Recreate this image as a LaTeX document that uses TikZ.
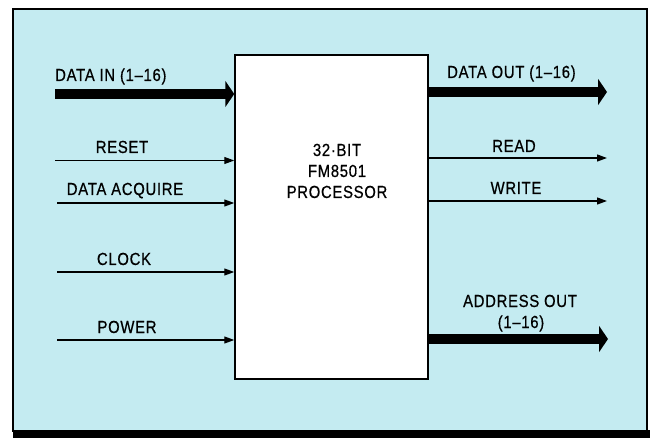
\documentclass[tikz,border=0pt]{standalone}
\usepackage{fontspec}
\setmainfont{Liberation Sans}[FakeBold=0.6, FakeStretch=0.85, LetterSpace=4]
\usetikzlibrary{arrows.meta}
\definecolor{bgcyan}{RGB}{196,235,241}
\tikzset{
  lbl/.style={font=\fontsize{17.5}{20}\selectfont, inner sep=0pt, anchor=base},
  bus/.style={line width=10pt, -{Triangle[length=9pt,width=26pt]}},
  sig/.style={line width=1.2pt, -{Triangle[length=10pt,width=7pt]}},
}
\begin{document}
\begin{tikzpicture}[x=1pt,y=-1pt]
\useasboundingbox (0,0) rectangle (650,438);
\fill[white] (0,0) rectangle (650,438);
% outer panel
\draw[line width=1.5pt, fill=bgcyan] (13,9) rectangle (647,431);
\fill[black] (13,430) rectangle (650,438);
% processor box
\node[draw, line width=1.5pt, fill=white, minimum width=193pt, minimum height=324pt, inner sep=0pt] (cpu) at (331.5,217) {};
\node[font=\fontsize{17.5}{21}\selectfont, align=center, inner sep=0pt, anchor=base] (proc) at (337,198) {32·BIT\\FM8501\\PROCESSOR};
% inputs
\coordinate (din) at (55,94);
\coordinate (rst) at (55,160.5);
\coordinate (acq) at (57,203);
\coordinate (clk) at (57,272);
\coordinate (pwr) at (57,340);
\draw[bus] (din) -- (din -| cpu.west);
\draw[sig] (rst) -- (rst -| cpu.west);
\draw[sig] (acq) -- (acq -| cpu.west);
\draw[sig] (clk) -- (clk -| cpu.west);
\draw[sig] (pwr) -- (pwr -| cpu.west);
\node[lbl, anchor=base west] (ldin) at (55,81) {DATA IN (1–16)};
\node[lbl] (lrst) at (122,153) {RESET};
\node[lbl] (lacq) at (125,195) {DATA ACQUIRE};
\node[lbl] (lclk) at (124,265) {CLOCK};
\node[lbl] (lpwr) at (127,333) {POWER};
% outputs
\coordinate (dout) at (607,92);
\coordinate (rd) at (607,158);
\coordinate (wr) at (607,201);
\coordinate (aout) at (608,339);
\draw[bus] (dout -| cpu.east) -- (dout);
\draw[sig] (rd -| cpu.east) -- (rd);
\draw[sig] (wr -| cpu.east) -- (wr);
\draw[bus] (aout -| cpu.east) -- (aout);
\node[lbl, anchor=base west] (ldout) at (447,78) {DATA OUT (1–16)};
\node[lbl] (lrd) at (514,152) {READ};
\node[lbl] (lwr) at (516,194) {WRITE};
\node[lbl] (laout) at (520,307) {ADDRESS OUT};
\node[lbl] (laout2) at (521,328) {(1–16)};
\end{tikzpicture}
\end{document}
